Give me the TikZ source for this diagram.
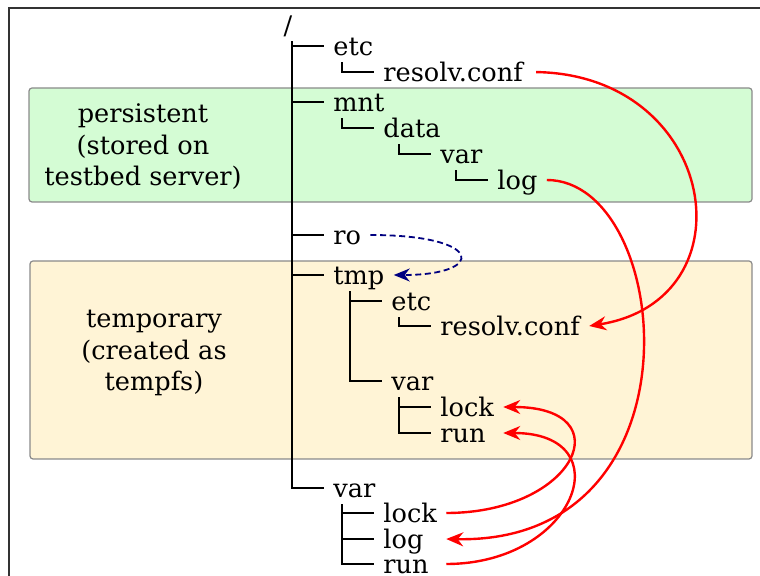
\documentclass[tikz,border=0pt]{standalone}
\usepackage{fontspec}
\setmainfont{DejaVu Serif}
\usetikzlibrary{arrows.meta}

\definecolor{persistfill}{HTML}{D4FCD4}
\definecolor{tempfill}{HTML}{FFF4D6}
\definecolor{zoneborder}{HTML}{8A8A8A}
\definecolor{linkblue}{HTML}{000080}

\tikzset{
    fsnode/.style={anchor=base west, inner xsep=4.5pt, inner ysep=1pt,
        text height=12pt, text depth=2pt},
    branch/.style={line width=1.1pt},
    zone/.style={draw=zoneborder, line width=0.6pt, rounded corners=1.5pt},
    zonelabel/.style={align=center},
    bind/.style={red, line width=1.2pt, -{Stealth[length=8.5pt,width=7pt]}},
    link/.style={linkblue, line width=0.9pt, dash pattern=on 3pt off 1.8pt,
        -{Stealth[length=8pt,width=6.5pt]}},
}

\begin{document}
\begin{tikzpicture}[x=0.5pt, y=-0.5pt, font=\fontsize{12.8}{15.75}\selectfont]
    \useasboundingbox (0,0) rectangle (760,576);

    % Frame, open to the right and bottom
    \draw[black!80, line width=0.6pt] (9,576) -- (9,8) -- (760,8);

    % Zones
    \draw[zone, fill=persistfill] (29,88) rectangle (752,202);
    \draw[zone, fill=tempfill] (30,261) rectangle (752,459);
    \node[zonelabel] (persistlbl) at (143,147) {persistent\\(stored on\\testbed server)};
    \node[zonelabel] (templbl) at (154,353) {temporary\\(created as\\tempfs)};

    % Directory tree
    \node[fsnode, anchor=base] (root) at (288,35) {/};
    \node[fsnode] (etc) at (324,56) {etc};
    \node[fsnode] (etcresolv) at (374,82) {resolv.conf};
    \node[fsnode] (mnt) at (324,112) {mnt};
    \node[fsnode] (data) at (374,138) {data};
    \node[fsnode] (datavar) at (431,164) {var};
    \node[fsnode] (datalog) at (488,190) {log};
    \node[fsnode] (ro) at (324,245) {ro};
    \node[fsnode] (tmp) at (324,285) {tmp};
    \node[fsnode] (tmpetc) at (382,311) {etc};
    \node[fsnode] (tmpresolv) at (431,336) {resolv.conf};
    \node[fsnode] (tmpvar) at (382,391) {var};
    \node[fsnode] (tmplock) at (431,417) {lock};
    \node[fsnode] (tmprun) at (431,443) {run};
    \node[fsnode] (var) at (324,498) {var};
    \node[fsnode] (varlock) at (374,523) {lock};
    \node[fsnode] (varlog) at (374,549) {log};
    \node[fsnode] (varrun) at (374,574) {run};

    \foreach \parent/\child in {root/etc, root/mnt, root/ro, root/tmp, root/var,
            etc/etcresolv, mnt/data, data/datavar, datavar/datalog,
            tmp/tmpetc, tmp/tmpvar, tmpetc/tmpresolv, tmpvar/tmplock, tmpvar/tmprun,
            var/varlock, var/varlog, var/varrun}
        \draw[branch] ([xshift=-16pt]\child.west |- \parent.south) |- (\child.west);

    % ro points at tmp
    \draw[link] (ro.east) .. controls +(115,0) and +(92,0) .. (tmp.east);

    % Bind mounts
    \draw[bind, shorten <=2pt] (etcresolv.east)
        .. controls +(186,3) and +(164,-26) .. (tmpresolv.east);
    \draw[bind] (datalog.east)
        .. controls +(126,0) and +(262,5) .. (varlog.east -| varlock.east);
    \draw[bind] (varlock.east)
        .. controls +(130,0) and +(120,0) .. (tmplock.east);
    \draw[bind] (varrun.east -| varlock.east)
        .. controls +(130,0) and +(120,0) .. (tmprun.east -| tmplock.east);
\end{tikzpicture}
\end{document}
